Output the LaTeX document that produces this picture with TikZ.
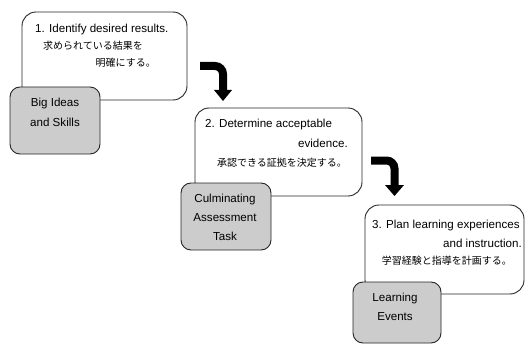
\documentclass[tikz,border=0pt]{standalone}
\usepackage{fontspec}
\setmainfont{Liberation Sans}
\newfontfamily\jpfont{Noto Sans CJK JP}
\begin{document}
\begin{tikzpicture}[x=1pt,y=-1pt,
  stage/.style={draw=black!85,line width=0.9pt,rounded corners=14pt,fill=white},
  focus/.style={draw=black!85,line width=0.9pt,rounded corners=10pt,fill=black!20},
  txt/.style={inner sep=0pt,font=\fontsize{11.6}{13}\selectfont},
  jtxt/.style={inner sep=0pt,font=\jpfont\fontsize{10}{12}\selectfont},
  bentbar/.style={line width=8pt,rounded corners=8pt},
  headtri/.style={fill=black}]
\useasboundingbox (0,0) rectangle (525,345);
\fill[white] (0,0) rectangle (525,345);
% stage 1
\draw[stage] (22,12) rectangle (187,100);
\draw[focus] (10,87) rectangle (100,154);
\node[txt,anchor=west] (s1a) at (35,30) {1. Identify desired results.};
\node[jtxt,anchor=west] (s1b) at (43,46) {求められている結果を};
\node[jtxt,anchor=east] (s1c) at (156,63) {明確にする。};
\node[txt] (f1a) at (55,104) {Big Ideas};
\node[txt] (f1b) at (55,122) {and Skills};
% arrow 1
\coordinate (a1s) at (200,66);
\coordinate (a1c) at (223,66);
\coordinate (a1e) at (223,91);
\draw[bentbar] (a1s) -- (a1c) -- (a1e);
\fill[headtri] (214,90) -- (232,90) -- (223,101) -- cycle;
% stage 2
\draw[stage] (195,108) rectangle (362,196);
\draw[focus] (181,183) rectangle (271,250);
\node[txt,anchor=west] (s2a) at (205,125) {2. Determine acceptable};
\node[txt,anchor=east] (s2b) at (348,143) {evidence.};
\node[jtxt,anchor=east] (s2c) at (347,163) {承認できる証拠を決定する。};
\node[txt] (f2a) at (225,199) {Culminating};
\node[txt] (f2b) at (225,218) {Assessment};
\node[txt] (f2c) at (225,236) {Task};
% arrow 2
\coordinate (a2s) at (371,160.5);
\coordinate (a2c) at (394.5,160.5);
\coordinate (a2e) at (394.5,186);
\draw[bentbar] (a2s) -- (a2c) -- (a2e);
\fill[headtri] (385,185) -- (404,185) -- (394.5,196) -- cycle;
% stage 3
\draw[stage] (365,205) rectangle (524,294);
\draw[focus] (353,282) rectangle (441,343);
\node[txt,anchor=west] (s3a) at (372,225) {3. Plan learning experiences};
\node[txt,anchor=east] (s3b) at (522,243) {and instruction.};
\node[jtxt,anchor=east] (s3c) at (512,261) {学習経験と指導を計画する。};
\node[txt] (f3a) at (395,298) {Learning};
\node[txt] (f3b) at (395,317) {Events};
\end{tikzpicture}
\end{document}
